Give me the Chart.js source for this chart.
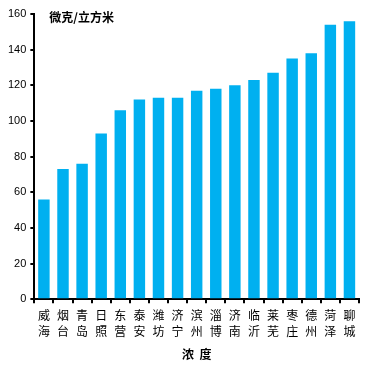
<!DOCTYPE html>
<html>
<head>
<meta charset="utf-8">
<script src="https://cdn.jsdelivr.net/npm/chart.js@4"></script>
<style>
  html, body { margin: 0; padding: 0; background: #fff; }
  #wrap { width: 370px; height: 370px; }
</style>
</head>
<body>
<div id="wrap"><canvas id="pm"></canvas></div>
<script>
// cities, sorted by concentration
let cities = ['威海', '烟台', '青岛', '日照', '东营', '泰安', '潍坊', '济宁', '滨州', '淄博', '济南', '临沂', '莱芜', '枣庄', '德州', '菏泽', '聊城'];
let conc = [56, 73, 76, 93, 106, 112, 113, 113, 117, 118, 120, 123, 127, 135, 138, 154, 156];
let yTicks = [0, 20, 40, 60, 80, 100, 120, 140, 160];
let unitLabel = '微克/立方米';
let xTitle = '浓  度';

const cjk = '"Noto Sans CJK SC", sans-serif';

// unit text in the top left corner of the plot
const unitPlugin = {
    id: 'unit',
    afterDraw(chart) {
        const c = chart.ctx;
        const a = chart.chartArea;
        c.save();
        c.font = 'bold 12px ' + cjk;
        c.fillStyle = '#000';
        c.textBaseline = 'middle';
        c.fillText(unitLabel, a.left + 15, a.top + 3);
        c.restore();
    }
};

new Chart(document.getElementById('pm'), {
    type: 'bar',
    data: {
        labels: cities.map(n => n.split('')),
        datasets: [{
            data: conc,
            backgroundColor: '#00B0F0',
            barPercentage: 0.6,
            categoryPercentage: 1.0
        }]
    },
    options: {
        responsive: true,
        maintainAspectRatio: false,
        animation: false,
        layout: { padding: { top: 14, right: 11, left: 4, bottom: 4 } },
        plugins: {
            legend: { display: false },
            tooltip: { enabled: false }
        },
        scales: {
            x: {
                grid: { drawOnChartArea: false, drawTicks: true, tickLength: 4, color: '#000', lineWidth: 2, offset: true },
                border: { color: '#000', width: 2 },
                ticks: {
                    color: '#000',
                    font: { family: cjk, size: 12, lineHeight: 1.35 },
                    maxRotation: 0,
                    autoSkip: false,
                    padding: 4
                },
                title: {
                    display: true,
                    text: xTitle,
                    color: '#000',
                    font: { family: cjk, size: 12, weight: 'bold' },
                    padding: { top: 4 }
                }
            },
            y: {
                min: 0,
                max: 160,
                afterBuildTicks: axis => { axis.ticks = yTicks.map(v => ({ value: v })); },
                grid: { drawOnChartArea: false, drawTicks: true, tickLength: 4, color: '#000', lineWidth: 2 },
                border: { color: '#000', width: 2 },
                ticks: {
                    color: '#000',
                    font: { family: '"Liberation Sans", Arial, sans-serif', size: 11 },
                    padding: 4
                }
            }
        }
    },
    plugins: [unitPlugin]
});
</script>
</body>
</html>
